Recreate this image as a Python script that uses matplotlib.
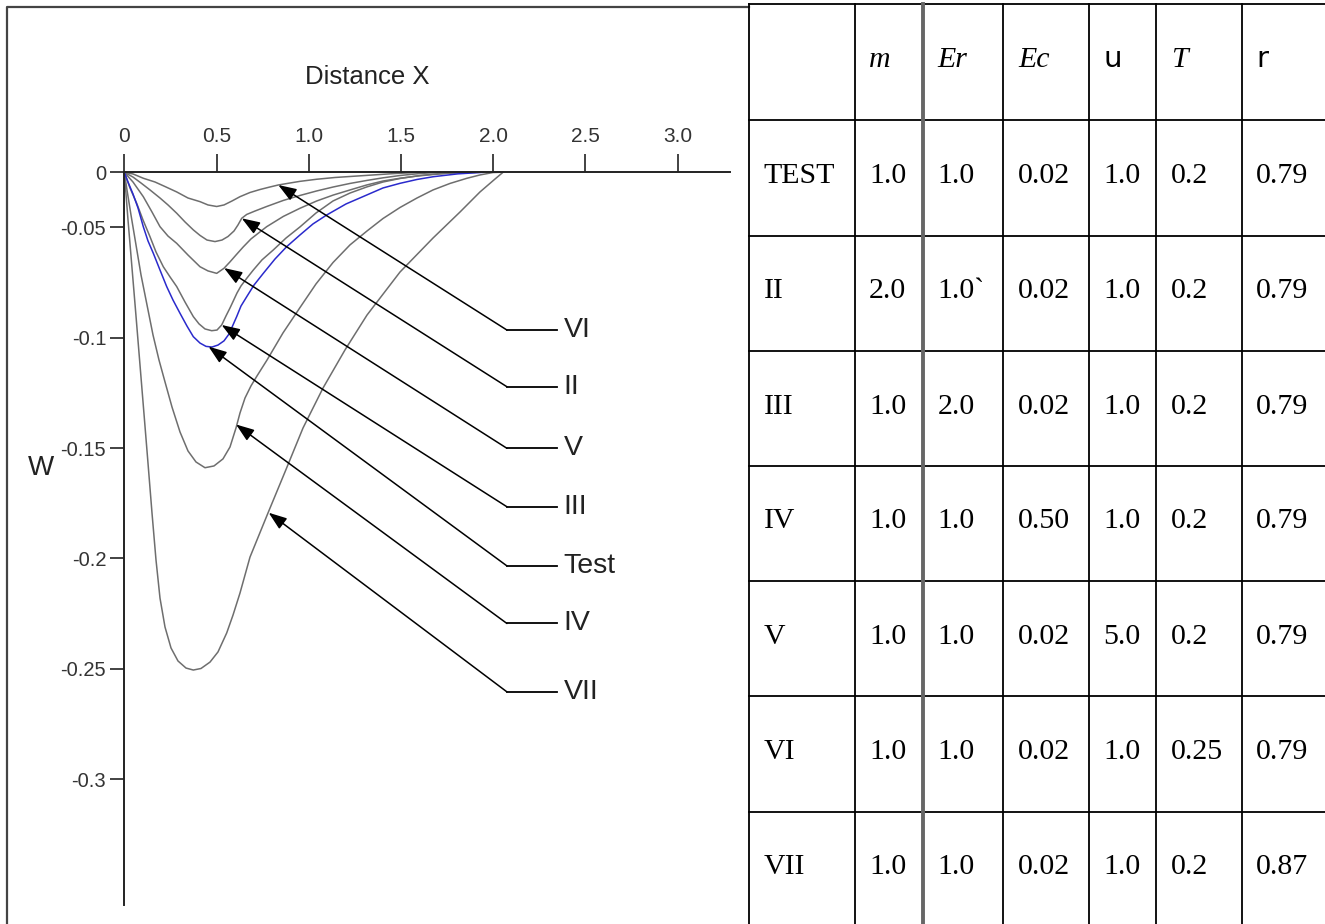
import numpy as np
import matplotlib
matplotlib.use("Agg")
import matplotlib.pyplot as plt

plt.rcParams['font.family'] = ['Liberation Sans', 'DejaVu Sans']

# deflection W against distance X for each run
x_test = [0, 0.0201, 0.0472, 0.0743, 0.1030, 0.1285, 0.1573, 0.1936, 0.2299, 0.2641, 0.3021, 0.3400, 0.3742,
          0.4105, 0.4431, 0.4756, 0.5081, 0.5407, 0.5678, 0.5895, 0.6095, 0.6329, 0.6638, 0.7034, 0.7538, 0.8172,
          0.8807, 0.9528, 1.0233, 1.0976, 1.2023, 1.3145, 1.4029, 1.4951, 1.5873, 1.6757, 1.8096, 1.9469]
w_test = [0, -0.0088, -0.0197, -0.0323, -0.0493, -0.0561, -0.0617, -0.0693, -0.0768, -0.0829, -0.0889, -0.0947,
          -0.0995, -0.1024, -0.1039, -0.1042, -0.1033, -0.1014, -0.0983, -0.0942, -0.0904, -0.0856, -0.0814,
          -0.0761, -0.0708, -0.0643, -0.0587, -0.0534, -0.0468, -0.0387, -0.0287, -0.0206, -0.0142, -0.0100,
          -0.0065, -0.0040, -0.0014, 0]

x_ii = [0, 0.0472, 0.0906, 0.1394, 0.1936, 0.2370, 0.2842, 0.3292, 0.3742, 0.4105, 0.4485, 0.4919, 0.5298,
        0.5624, 0.5949, 0.6166, 0.6367, 0.6638, 0.7088, 0.7722, 0.8623, 0.9528, 1.0434, 1.1334, 1.2240, 1.3145,
        1.4029, 1.4951, 1.6035, 1.7121]
w_ii = [0, -0.0043, -0.0097, -0.0160, -0.0233, -0.0296, -0.0371, -0.0450, -0.0511, -0.0536, -0.0557, -0.0564,
        -0.0557, -0.0541, -0.0516, -0.0477, -0.0417, -0.0382, -0.0351, -0.0310, -0.0255, -0.0210, -0.0169,
        -0.0133, -0.0101, -0.0074, -0.0050, -0.0029, -0.0011, 0]

x_iii = [0, 0.0309, 0.0672, 0.1014, 0.1394, 0.1719, 0.2115, 0.2478, 0.2842, 0.3292, 0.3742, 0.4051, 0.4376,
         0.4740, 0.5027, 0.5282, 0.5515, 0.5732, 0.5911, 0.6112, 0.6329, 0.6654, 0.6996, 0.7467, 0.8080, 0.8769,
         0.9528, 1.0396, 1.1318, 1.2240, 1.3145, 1.4029, 1.4951, 1.6035, 1.7121, 1.8205, 1.9019]
w_iii = [0, -0.0142, -0.0281, -0.0432, -0.0542, -0.0611, -0.0678, -0.0724, -0.0768, -0.0838, -0.0904, -0.0937,
         -0.0960, -0.0968, -0.0965, -0.0942, -0.0901, -0.0865, -0.0833, -0.0797, -0.0765, -0.0729, -0.0693,
         -0.0647, -0.0602, -0.0548, -0.0495, -0.0369, -0.0260, -0.0188, -0.0133, -0.0088, -0.0056, -0.0029,
         -0.0011, -0.0002, 0]

x_iv = [0, 0.0146, 0.0363, 0.0634, 0.0906, 0.1231, 0.1556, 0.1882, 0.2207, 0.2587, 0.3021, 0.3454, 0.3888,
        0.4376, 0.4864, 0.5352, 0.5732, 0.6057, 0.6274, 0.6546, 0.6871, 0.7196, 0.7739, 0.8606, 0.9528, 1.0396,
        1.1318, 1.2240, 1.3162, 1.4029, 1.4951, 1.5873, 1.6741, 1.7663, 1.8584, 1.9290, 1.9995, 2.0374]
w_iv = [0, -0.0160, -0.0387, -0.0579, -0.0715, -0.0851, -0.0987, -0.1101, -0.1200, -0.1314, -0.1427, -0.1513,
        -0.1563, -0.1589, -0.1581, -0.1549, -0.1495, -0.1409, -0.1341, -0.1273, -0.1218, -0.1173, -0.1101,
        -0.0978, -0.0863, -0.0756, -0.0659, -0.0579, -0.0516, -0.0419, -0.0319, -0.0233, -0.0160, -0.0101,
        -0.0054, -0.0024, -0.0002, 0]

x_v = [0, 0.0472, 0.1030, 0.1502, 0.1936, 0.2370, 0.2842, 0.3454, 0.4105, 0.4539, 0.5011, 0.5407, 0.5732,
       0.6057, 0.6453, 0.6871, 0.7359, 0.7722, 0.8623, 0.9528, 1.0434, 1.1334, 1.2240, 1.3145, 1.4029, 1.4951,
       1.5873, 1.6741, 1.7663, 1.8584, 1.9290]
w_v = [0, -0.0088, -0.0221, -0.0360, -0.0493, -0.0539, -0.0572, -0.0625, -0.0678, -0.0697, -0.0708, -0.0685,
       -0.0656, -0.0625, -0.0588, -0.0552, -0.0520, -0.0493, -0.0400, -0.0326, -0.0260, -0.0206, -0.0160,
       -0.0115, -0.0079, -0.0054, -0.0034, -0.0020, -0.0008, -0.0002, 0]

x_vi = [0, 0.0472, 0.1030, 0.1665, 0.2207, 0.2842, 0.3454, 0.4105, 0.4539, 0.5011, 0.5407, 0.5841, 0.6274,
        0.6817, 0.7359, 0.7901, 0.8351, 0.8986, 0.9528, 1.0434, 1.1426, 1.2240, 1.3053, 1.3867, 1.4680, 1.5493,
        1.6035]
w_vi = [0, -0.0015, -0.0054, -0.0088, -0.0129, -0.0178, -0.0233, -0.0266, -0.0296, -0.0310, -0.0296, -0.0260,
        -0.0221, -0.0183, -0.0156, -0.0133, -0.0115, -0.0097, -0.0082, -0.0063, -0.0047, -0.0038, -0.0029,
        -0.0020, -0.0011, -0.0005, 0]

x_vii = [0, 0.0201, 0.0418, 0.0634, 0.0851, 0.1068, 0.1285, 0.1502, 0.1719, 0.1936, 0.2207, 0.2533, 0.2912,
         0.3346, 0.3742, 0.4159, 0.4648, 0.5081, 0.5553, 0.5895, 0.6274, 0.6817, 0.7305, 0.7793, 0.8715, 0.9691,
         1.0775, 1.1969, 1.3162, 1.4951, 1.6741, 1.8205, 1.9290, 2.0103, 2.0537]
w_vii = [0, -0.0432, -0.0684, -0.0901, -0.1123, -0.1345, -0.1568, -0.1794, -0.2007, -0.2180, -0.2311, -0.2406,
         -0.2465, -0.2497, -0.2506, -0.2499, -0.2470, -0.2424, -0.2338, -0.2257, -0.2157, -0.1994, -0.1894,
         -0.1794, -0.1608, -0.1409, -0.1228, -0.1055, -0.0897, -0.0702, -0.0548, -0.0360, -0.0178, -0.0061, 0]

# callouts: name, arrow tip on the curve, label height
callout_names = ['VI', 'II', 'V', 'III', 'Test', 'IV', 'VII']
callout_tips = [(0.835, -0.0115), (0.637, -0.0417), (0.541, -0.0684), (0.528, -0.0942),
                (0.457, -0.104), (0.606, -0.1393), (0.783, -0.1793)]
callout_y = [-0.0965, -0.1222, -0.1501, -0.1766, -0.2034, -0.2295, -0.2605]

# parameter table
row_names = ['TEST', 'II', 'III', 'IV', 'V', 'VI', 'VII']
col_heads = ['m', 'Er', 'Ec', 'u', 'T', 'r']
m_vals = ['1.0', '2.0', '1.0', '1.0', '1.0', '1.0', '1.0']
er_vals = ['1.0', '1.0`', '2.0', '1.0', '1.0', '1.0', '1.0']
ec_vals = ['0.02', '0.02', '0.02', '0.50', '0.02', '0.02', '0.02']
u_vals = ['1.0', '1.0', '1.0', '1.0', '5.0', '1.0', '1.0']
t_vals = ['0.2', '0.2', '0.2', '0.2', '0.2', '0.25', '0.2']
r_vals = ['0.79', '0.79', '0.79', '0.79', '0.79', '0.79', '0.87']


# y axis is stretched below -0.05
def fwd(v):
    v = np.asarray(v, dtype=float)
    return np.where(v >= -0.05, 10 * v, 20 * v + 0.5)


def inv(u):
    u = np.asarray(u, dtype=float)
    return np.where(u >= -0.5, u / 10, (u - 0.5) / 20)


W, H = 1325, 924
fig = plt.figure(figsize=(W / 100, H / 100), dpi=100)

# pixel-space overlay for the frame and the table
bg = fig.add_axes([0, 0, 1, 1])
bg.set_xlim(0, W)
bg.set_ylim(H, 0)
bg.axis('off')

bg.plot([7, 7, 749], [H, 7, 7], color='#444444', lw=1.6)

col_edges = [749, 854.5, 922.8, 1003.4, 1088.5, 1156.4, 1241.8, 1328]
row_edges = [4.3, 120, 236, 351, 466, 581, 696, 812, 927]
for yy in row_edges:
    bg.plot([col_edges[0], col_edges[-1]], [yy, yy], color='black', lw=1.3)
for i, xx in enumerate(col_edges):
    if i == 2:
        bg.plot([xx, xx], [row_edges[0], row_edges[-1]], color='#666666', lw=2.8)
    else:
        bg.plot([xx, xx], [row_edges[0], row_edges[-1]], color='black', lw=1.3)

serif = 'Liberation Serif'
pad = 14.5
head_y = (row_edges[0] + row_edges[1]) / 2 + 5
for j, h in enumerate(col_heads):
    x0 = col_edges[j + 1] + pad
    if h in ('u', 'r'):
        bg.text(x0, head_y, h, family='DejaVu Sans', fontsize=21, va='baseline', ha='left')
    else:
        bg.text(x0, head_y, h, family=serif, style='italic', fontsize=21.5, va='baseline', ha='left')

columns = [row_names, m_vals, er_vals, ec_vals, u_vals, t_vals, r_vals]
for i in range(len(row_names)):
    yc = (row_edges[i + 1] + row_edges[i + 2]) / 2 + 5
    for j, col in enumerate(columns):
        bg.text(col_edges[j] + pad, yc, col[i], family=serif, fontsize=21.5,
                va='baseline', ha='left')

# the W(X) plot
x_left, x_right = 124.3, 730
y_top, y_bot = 172.3, 905
ax = fig.add_axes([x_left / W, (H - y_bot) / H, (x_right - x_left) / W, (y_bot - y_top) / H])
ax.set_facecolor('none')
ax.set_yscale('function', functions=(fwd, inv))
ax.set_xlim(0, (x_right - x_left) / 184.4)
ax.set_ylim(-0.3571, 0)

for s in ['right', 'bottom']:
    ax.spines[s].set_visible(False)
for s in ['top', 'left']:
    ax.spines[s].set_color('#222222')
    ax.spines[s].set_linewidth(1.4)

ax.xaxis.tick_top()
ax.set_xticks([0, 0.5, 1.0, 1.5, 2.0, 2.5, 3.0])
ax.set_xticklabels(['0', '0.5', '1.0', '1.5', '2.0', '2.5', '3.0'])
ax.set_yticks([0, -0.05, -0.1, -0.15, -0.2, -0.25, -0.3])
ax.set_yticklabels(['0', '-0.05', '-0.1', '-0.15', '-0.2', '-0.25', '-0.3'])
ax.yaxis.set_minor_locator(matplotlib.ticker.NullLocator())
ax.tick_params(axis='x', direction='out', length=13, width=1.2, pad=6, labelsize=15,
               colors='#222222', labelcolor='#333333')
ax.tick_params(axis='y', direction='out', length=10, width=1.2, pad=3, labelsize=14.5,
               colors='#222222', labelcolor='#333333')

grey = '#6e6e6e'
for xs, ws in [(x_vi, w_vi), (x_ii, w_ii), (x_v, w_v), (x_iii, w_iii), (x_iv, w_iv), (x_vii, w_vii)]:
    ax.plot(xs, ws, color=grey, lw=1.1, clip_on=False, solid_joinstyle='round')
ax.plot(x_test, w_test, color='#2a2acc', lw=1.1, clip_on=False, solid_joinstyle='round')

stub_x0, stub_x1, text_x = 2.075, 2.347, 2.382
for name, tip, yl in zip(callout_names, callout_tips, callout_y):
    ax.annotate('', xy=tip, xytext=(stub_x0, yl),
                arrowprops=dict(arrowstyle='-|>,head_length=0.55,head_width=0.2',
                                mutation_scale=20, color='black', lw=1.1,
                                shrinkA=0, shrinkB=0))
    ax.plot([stub_x0, stub_x1], [yl, yl], color='black', lw=1.3)
    ax.text(text_x, yl, name, fontsize=20.5, va='center', ha='left', color='#222222')

fig.text(367 / W, 1 - 77 / H, 'Distance X', fontsize=18.5, ha='center', va='center', color='#222222')
fig.text(41 / W, 1 - 468 / H, 'W', fontsize=20, ha='center', va='center', color='#222222')

fig.savefig('out.png', dpi=100)
